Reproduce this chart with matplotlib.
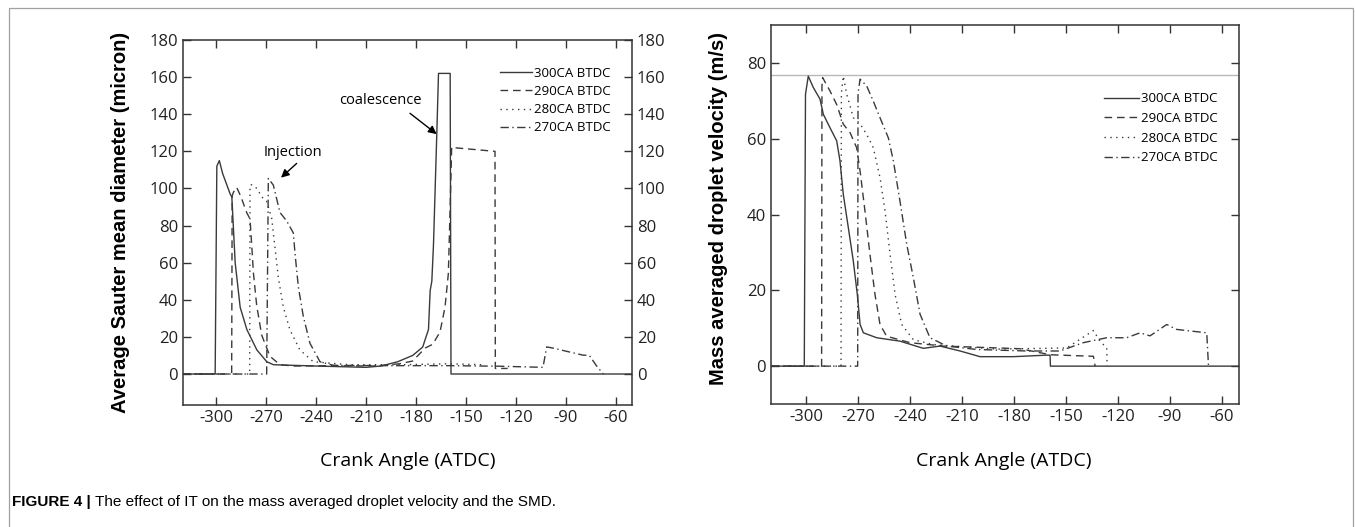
import numpy as np
import matplotlib
matplotlib.use("Agg")
import matplotlib.pyplot as plt
from matplotlib.patches import Rectangle

plt.rcParams['font.family'] = ['Open Sans', 'DejaVu Sans']

# ---- data: SMD (left) ----
labels = ['300CA BTDC', '290CA BTDC', '280CA BTDC', '270CA BTDC']

smd_300_x = [-320, -300.5, -299.5, -298, -296, -291.5, -290.5, -288.5, -285.5, -281.5, -275.5, -269.5,
             -265.5, -240, -210, -201, -191, -182, -176, -172.5, -171.5, -170.5, -169.5, -168.5, -167.5,
             -166.5, -159.5, -159, -50]
smd_300_y = [0, 0, 112, 115, 108, 97, 95.5, 60, 36, 24, 13, 6.6, 5, 4.3, 3.6, 4.3, 6.6, 10, 14.5, 24, 45,
             50, 70, 100, 130, 162, 162, 0, 0]

smd_290_x = [-320, -290.6, -290.3, -289.5, -287.6, -285, -281.6, -279.6, -278.6, -277.6, -275.6, -272.6,
             -267.6, -261.6, -253.6, -230, -205, -190, -182, -174.5, -170, -165.6, -162.6, -160.6, -159.5,
             -158.6, -157.6, -132.6, -132.4, -125]
smd_290_y = [0, 0, 96, 98, 100.6, 95.5, 87, 83.6, 70, 55, 37, 21, 9.5, 5, 4.3, 4.5, 4.3, 5.5, 7, 14, 16,
             22.6, 36, 54, 90, 122.3, 122, 120, 3, 3]

smd_280_x = [-320, -279.8, -279.6, -278.5, -275.4, -272.6, -269.6, -266.6, -264.6, -262.6, -259.6, -255.6,
             -249.6, -241.6, -220, -190, -160, -140]
smd_280_y = [0, 0, 101.8, 102, 100, 95.5, 93, 84, 68, 52, 36, 23.7, 12.9, 6.6, 5, 5, 5.5, 5]

smd_270_x = [-320, -269.6, -268.6, -265.6, -261.6, -257.6, -253.6, -252.6, -250.6, -247.6, -243.6, -237.6,
             -229.6, -200, -160, -130, -103.8, -101.6, -98, -80, -76, -71.6, -67.6]
smd_270_y = [0, 0, 105.4, 101.8, 87, 82.5, 76, 65, 47, 31, 16.5, 6.6, 4.7, 4.5, 4.5, 4.2, 3.6, 14.6, 14,
             10.2, 10, 4.3, 0]

# ---- data: velocity (right) ----
vel_300_x = [-320, -301, -300.3, -298.7, -295.8, -291.9, -290, -286.2, -282.3, -280.4, -278.5, -275.6,
             -272.7, -270.4, -268.8, -266.9, -259.2, -245.8, -232.3, -222.7, -211.1, -199.6, -180.4,
             -161.2, -159.2, -159, -50]
vel_300_y = [0, 0, 71.8, 76.6, 73.6, 70.5, 66.5, 63, 59.5, 54.2, 45.4, 36.6, 27.7, 18.9, 11, 8.8, 7.5,
             6.6, 4.7, 5.3, 4, 2.5, 2.5, 2.9, 2.9, 0, 0]

vel_290_x = [-320, -291, -290.8, -290.4, -286.2, -282.3, -278.5, -274.6, -270.8, -268.8, -266, -263.1,
             -260.2, -257.3, -253.5, -240, -220.8, -176.5, -159, -134.2, -133.2]
vel_290_y = [0, 0, 74, 76.2, 72.7, 69.1, 63.9, 61.7, 57.7, 51.5, 41, 29.5, 18.9, 11, 7.9, 6.2, 5.3, 4.6,
             3, 2.6, 0]

vel_280_x = [-320, -279.8, -279.6, -278.5, -276.5, -272.7, -268.8, -265, -261.2, -257.3, -254.4, -251.5,
             -248.6, -244.8, -238.1, -226.5, -190, -149.6, -134.2, -130.4, -126.5, -126.3]
vel_280_y = [0, 0, 72, 76.6, 71.8, 65.6, 64, 61.2, 57.7, 49.8, 41, 29.5, 18.9, 11, 7, 5.7, 4.5, 4.8, 9.4,
             6.6, 4.8, 0]

vel_270_x = [-320, -270.2, -270, -268.8, -265, -261.2, -257.3, -252.5, -249.6, -245.8, -241.9, -238.1,
             -234.2, -228.5, -218.8, -201.5, -172.7, -153.5, -140, -126.5, -115, -107.3, -101.5, -91.9,
             -86.2, -80.4, -68.8, -67.8]
vel_270_y = [0, 0, 72, 75.8, 74, 70, 65.6, 60.3, 54.2, 43.6, 32.2, 23.4, 13.7, 7.5, 5.3, 4.4, 4, 4, 6.2,
             7.5, 7.5, 8.8, 8, 11, 9.7, 9.4, 8.8, 0]

vel_max = 76.9
x_ticks = [-300, -270, -240, -210, -180, -150, -120, -90, -60]

W, H = 1355, 527
ink = '#3a3a3a'
styles = ['-', (0, (5.5, 3.5)), (0, (1, 3.2)), (0, (6, 2.5, 1, 2.5))]

fig = plt.figure(figsize=(W / 100, H / 100), dpi=100)


def px_axes(l, t, r, b):
    return fig.add_axes([l / W, 1 - b / H, (r - l) / W, (b - t) / H])


def style_axes(ax):
    for s in ax.spines.values():
        s.set_color('#333333')
        s.set_linewidth(1.1)
    ax.tick_params(direction='in', length=6, width=1.0, colors='#333333', labelsize=12,
                   top=True, right=True, labelcolor='#222222')
    ax.set_xticks(x_ticks)
    ax.set_xticklabels([str(v) for v in x_ticks])


def arrow(ax, tail, tip):
    ax.annotate('', xy=tip, xytext=tail,
                arrowprops=dict(arrowstyle='-|>', color='black', lw=1.0,
                                shrinkA=0, shrinkB=0, mutation_scale=12))


# ---- left: SMD ----
ax1 = px_axes(183, 40, 632, 405)
style_axes(ax1)
for (xs, ys), ls, lab in zip([(smd_300_x, smd_300_y), (smd_290_x, smd_290_y),
                             (smd_280_x, smd_280_y), (smd_270_x, smd_270_y)], styles, labels):
    ax1.plot(xs, ys, color=ink, lw=1.0, linestyle=ls, label=lab)
ax1.set_xlim(-319.8, -50.4)
ax1.set_ylim(-16.7, 180)
ax1.set_yticks(np.arange(0, 181, 20))
ax1.tick_params(labelright=True)
ax1.set_xlabel('Crank Angle (ATDC)', fontsize=14)
ax1.xaxis.set_label_coords(0.5, -0.129)
ax1.set_ylabel('Average Sauter mean diameter (micron)', fontsize=14.5, fontweight='bold',
               family=['Liberation Sans', 'DejaVu Sans'])
ax1.yaxis.set_label_coords(-0.118, 0.5)
ax1.legend(loc='upper left', bbox_to_anchor=(0.706, 0.927), frameon=False, fontsize=9.5,
           handlelength=2.4, handletextpad=0.15, labelspacing=0.4, borderpad=0, borderaxespad=0)
ax1.text(-253.8, 119.6, 'Injection', fontsize=10.5, ha='center', va='center')
arrow(ax1, (-251.6, 113.5), (-261, 105.8))
ax1.text(-201.6, 147.6, 'coalescence', fontsize=10.5, ha='center', va='center')
arrow(ax1, (-183.6, 140.5), (-167.6, 129.3))

# ---- right: velocity ----
ax2 = px_axes(771, 25, 1239, 404)
style_axes(ax2)
ax2.axhline(vel_max, color='#b8b8b8', lw=1.0)
for (xs, ys), ls, lab in zip([(vel_300_x, vel_300_y), (vel_290_x, vel_290_y),
                             (vel_280_x, vel_280_y), (vel_270_x, vel_270_y)], styles, labels):
    ax2.plot(xs, ys, color=ink, lw=1.0, linestyle=ls, label=lab)
ax2.set_xlim(-320.2, -50.2)
ax2.set_ylim(-10, 90.1)
ax2.set_yticks(np.arange(0, 81, 20))
ax2.set_xlabel('Crank Angle (ATDC)', fontsize=14)
ax2.xaxis.set_label_coords(0.498, -0.127)
ax2.set_ylabel('Mass averaged droplet velocity (m/s)', fontsize=14.5, fontweight='bold',
               family=['Liberation Sans', 'DejaVu Sans'])
ax2.yaxis.set_label_coords(-0.092, 0.515)
ax2.legend(loc='upper left', bbox_to_anchor=(0.712, 0.822), frameon=False, fontsize=9.5,
           handlelength=2.6, handletextpad=0.15, labelspacing=0.5, borderpad=0, borderaxespad=0)

# ---- outer frame and caption ----
fig.add_artist(Rectangle((9 / W, -0.1), (1353 - 9) / W, 1.1 - 8 / H, transform=fig.transFigure,
                         fill=False, ec='#a0a0a0', lw=0.9))
t1 = fig.text(12 / W, 1 - 502 / H, 'FIGURE 4 |', fontsize=11, fontweight='bold', va='center',
              family=['Liberation Sans', 'DejaVu Sans'])
fig.canvas.draw()
bb = t1.get_window_extent()
fig.text((bb.x1 + 4) / W, 1 - 502 / H, 'The effect of IT on the mass averaged droplet velocity and the SMD.',
         fontsize=11, va='center', family=['Liberation Sans', 'DejaVu Sans'])

fig.savefig('out.png', dpi=100)
